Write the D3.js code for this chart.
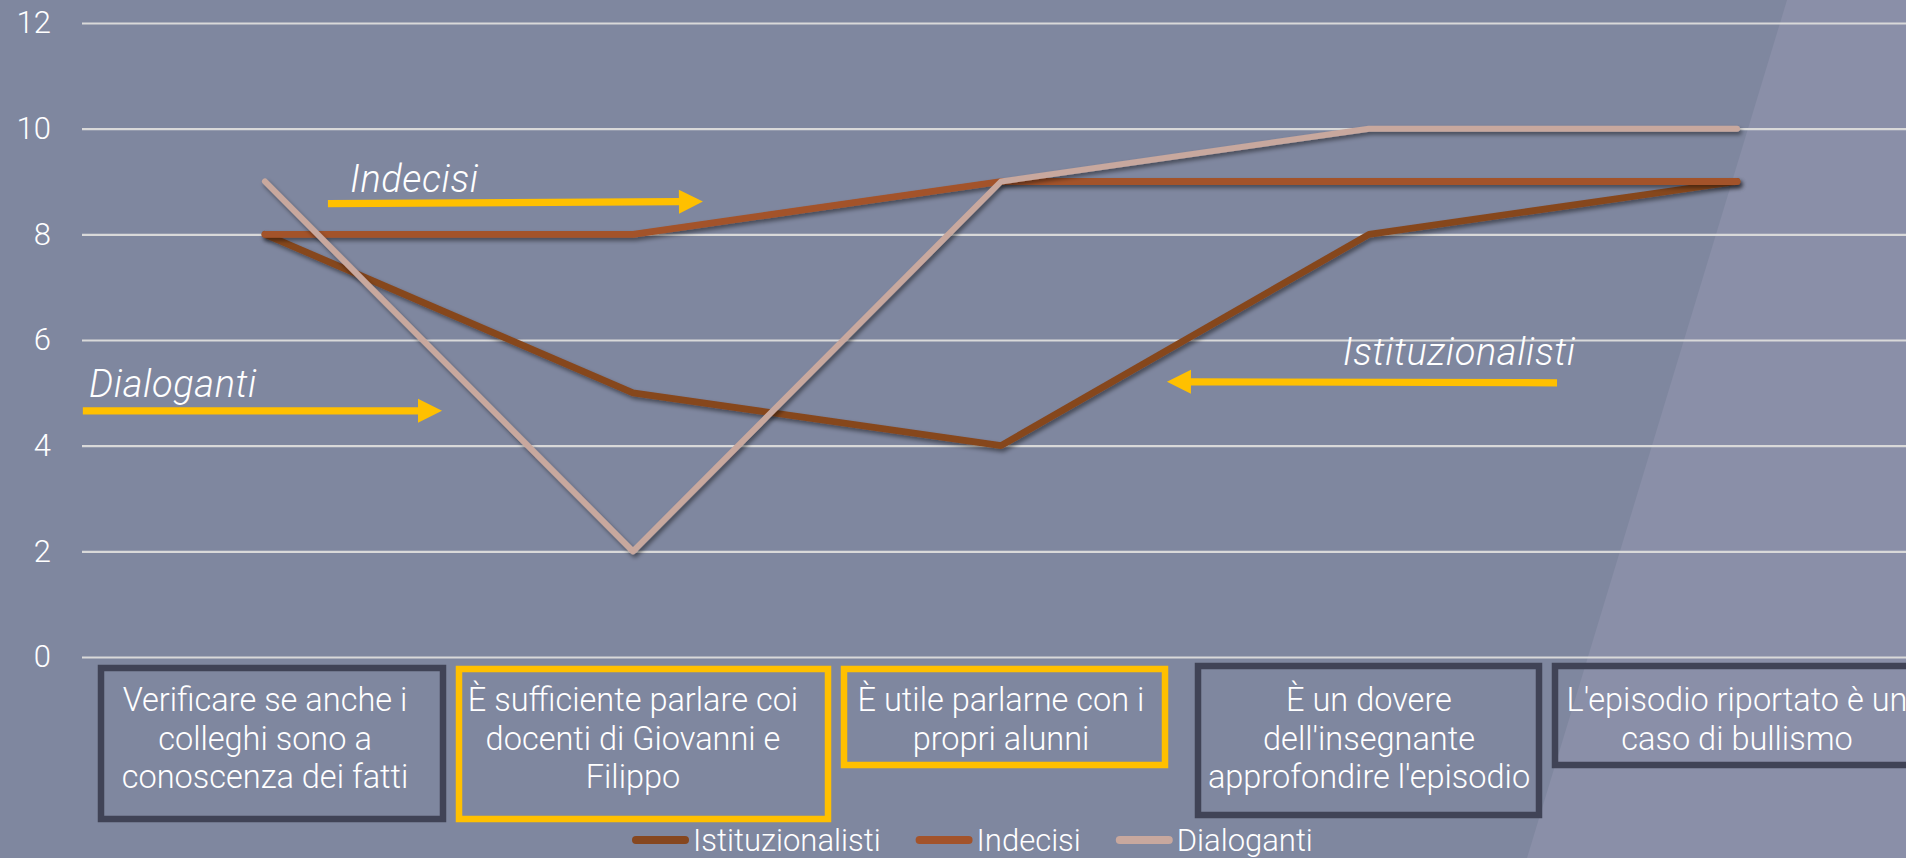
<!DOCTYPE html>
<html>
<head>
<meta charset="utf-8">
<script src="https://cdn.jsdelivr.net/npm/d3@7"></script>
<style>
  html, body { margin: 0; padding: 0; overflow: hidden; background: #7f879f; }
  svg { display: block; font-family: Roboto, "Noto Sans", sans-serif; font-weight: 300; }
</style>
</head>
<body>
<svg id="chart"></svg>
<script>
// data
const categories = [
    "Verificare se anche i\ncolleghi sono a\nconoscenza dei fatti",
    "È sufficiente parlare coi\ndocenti di Giovanni e\nFilippo",
    "È utile parlarne con i\npropri alunni",
    "È un dovere\ndell'insegnante\napprofondire l'episodio",
    "L'episodio riportato è un\ncaso di bullismo"
];
const seriesNames = ["Istituzionalisti", "Indecisi", "Dialoganti"];
const istituzionalisti = [8, 5, 4, 8, 9];
const indecisi = [8, 8, 9, 9, 9];
const dialoganti = [9, 2, 9, 10, 10];
const yTicks = [0, 2, 4, 6, 8, 10, 12];

const seriesValues = [istituzionalisti, indecisi, dialoganti];
const colors = ["#86471f", "#a3532a", "#c8a89e"];

// annotation layout (category index units / value units)
const callouts = [
    { text: "Indecisi", tx: 0.231, ty: 8.80, from: [0.171, 8.58], to: [1.19, 8.62] },
    { text: "Dialoganti", tx: -0.478, ty: 4.92, from: [-0.495, 4.66], to: [0.481, 4.66] },
    { text: "Istituzionalisti", tx: 2.929, ty: 5.53, from: [3.511, 5.19], to: [2.451, 5.21] }
];
// boxes around the category labels, offsets from band centre
const labelBoxes = [
    { left: -167, right: 181, top: 665, bottom: 822, color: "#404356" },
    { left: -177, right: 198, top: 666, bottom: 822, color: "#ffc000" },
    { left: -160, right: 167, top: 666, bottom: 768, color: "#ffc000" },
    { left: -174, right: 173, top: 663, bottom: 818, color: "#404356" },
    { left: -185, right: 240, top: 663, bottom: 768, color: "#404356" }
];

const W = 1906, H = 858;
const plotLeft = 82, plotRight = 1921, plotTop = 23, plotBottom = 657;

const svg = d3.select("#chart").attr("width", W).attr("height", H);

// background
svg.append("rect").attr("width", W).attr("height", H).attr("fill", "#7f879f");
svg.append("path")
    .attr("d", "M1787,0 L1906,0 L1906,858 L1527,858 Z")
    .attr("fill", "#8a8fa8");

const defs = svg.append("defs");
const f = defs.append("filter").attr("id", "shadow")
    .attr("x", "-10%").attr("y", "-10%").attr("width", "120%").attr("height", "130%");
f.append("feDropShadow").attr("dx", 2).attr("dy", 3).attr("stdDeviation", 2.2)
    .attr("flood-color", "#000").attr("flood-opacity", 0.45);

// scales
const x = d3.scaleBand().domain(d3.range(categories.length)).range([plotLeft - 1, plotRight]);
const xIdx = d3.scaleLinear().domain([-0.5, categories.length - 0.5]).range([plotLeft - 1, plotRight]);
const y = d3.scaleLinear().domain([0, 12]).range([plotBottom, plotTop]);
const cx = i => x(i) + x.bandwidth() / 2;

// y axis with gridlines
const yAxis = svg.append("g")
    .attr("transform", `translate(${plotLeft},0)`)
    .call(d3.axisLeft(y).tickValues(yTicks).tickSize(-(W - plotLeft)).tickPadding(31));
yAxis.select(".domain").remove();
yAxis.selectAll(".tick line").attr("stroke", "#d9d9d9").attr("stroke-width", 2.2);
yAxis.selectAll(".tick text")
    .attr("fill", "#ffffff")
    .style("font-size", "31px")
    .style("font-family", "Roboto, sans-serif")
    .style("font-weight", 300);

// category labels
const catG = svg.append("g");
categories.forEach((c, i) => {
    const b = labelBoxes[i];
    catG.append("rect")
        .attr("x", cx(i) + b.left + 3)
        .attr("y", b.top + 3)
        .attr("width", b.right - b.left - 6)
        .attr("height", b.bottom - b.top - 6)
        .attr("fill", "none")
        .attr("stroke", b.color)
        .attr("stroke-width", 6.5);
    const t = catG.append("text")
        .attr("text-anchor", "middle")
        .attr("fill", "#ffffff")
        .style("font-size", "32.5px");
    c.split("\n").forEach((line, k) => {
        t.append("tspan").attr("x", cx(i)).attr("y", 711 + k * 38.7).text(line);
    });
});

// series lines
const line = d3.line().x((d, i) => cx(i)).y(d => y(d));
seriesValues.forEach((vals, s) => {
    svg.append("path")
        .datum(vals)
        .attr("fill", "none")
        .attr("stroke", colors[s])
        .attr("stroke-width", s === 2 ? 6 : 6.8)
        .attr("stroke-linejoin", "round")
        .attr("stroke-linecap", "round")
        .attr("filter", "url(#shadow)")
        .attr("d", line);
});

// callouts: italic label + yellow arrow
callouts.forEach(c => {
    svg.append("text")
        .attr("x", xIdx(c.tx)).attr("y", y(c.ty))
        .attr("fill", "#ffffff")
        .style("font-size", "38px")
        .style("letter-spacing", "0.6px")
        .style("font-style", "italic")
        .text(c.text);

    const x0 = xIdx(c.from[0]), y0 = y(c.from[1]);
    const x1 = xIdx(c.to[0]), y1 = y(c.to[1]);
    const ang = Math.atan2(y1 - y0, x1 - x0);
    const headLen = 24, headHalf = 12, shaft = 3.6;
    const len = Math.hypot(x1 - x0, y1 - y0);
    const pts = [
        [0, -shaft], [len - headLen, -shaft], [len - headLen, -headHalf], [len, 0],
        [len - headLen, headHalf], [len - headLen, shaft], [0, shaft]
    ];
    svg.append("path")
        .attr("d", "M" + pts.map(p => p.join(",")).join("L") + "Z")
        .attr("fill", "#ffc000")
        .attr("transform", `translate(${x0},${y0}) rotate(${ang * 180 / Math.PI})`);
});

// legend
const legend = svg.append("g").attr("transform", "translate(632,840)");
let lx = 0;
seriesNames.forEach((name, s) => {
    legend.append("line")
        .attr("x1", lx + 4).attr("x2", lx + 53)
        .attr("stroke", colors[s]).attr("stroke-width", 8)
        .attr("stroke-linecap", "round");
    const t = legend.append("text")
        .attr("x", lx + 61).attr("y", 11)
        .attr("fill", "#ffffff")
        .style("font-size", "31px")
        .text(name);
    lx += 61 + t.node().getComputedTextLength() + 35;
});
</script>
</body>
</html>
